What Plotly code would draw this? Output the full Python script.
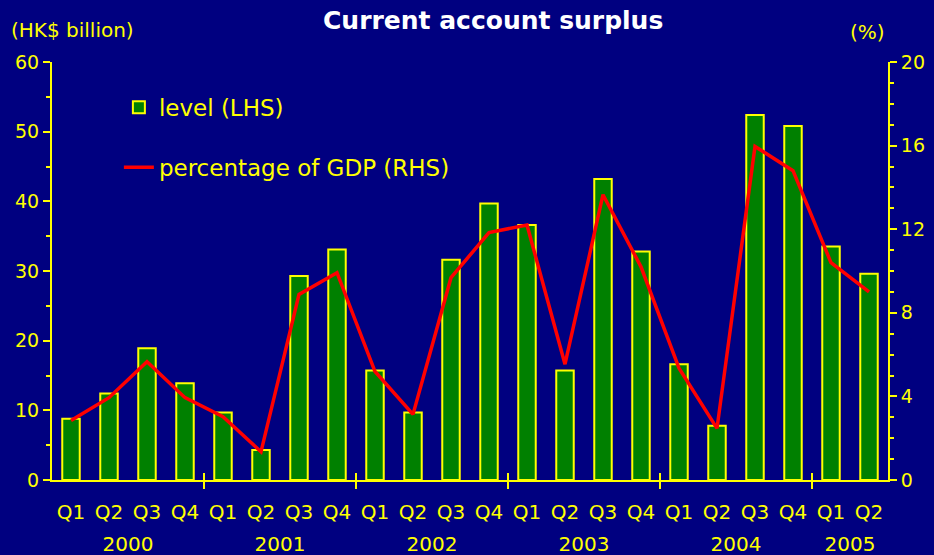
import plotly.graph_objects as go

quarters = ["Q1", "Q2", "Q3", "Q4"] * 5 + ["Q1", "Q2"]
years = ["2000", "2001", "2002", "2003", "2004", "2005"]
quarters_per_year = [4, 4, 4, 4, 4, 2]
level = [8.8, 12.4, 18.9, 13.9, 9.7, 4.3, 29.3, 33.1, 15.7, 9.7, 31.6, 39.7,
         36.6, 15.7, 43.2, 32.8, 16.6, 7.8, 52.4, 50.8, 33.5, 29.6]
pct_gdp = [2.85, 3.94, 5.66, 3.94, 3.03, 1.35, 8.88, 9.92, 5.19, 3.14, 9.68, 11.84,
           12.2, 5.54, 13.65, 10.2, 5.35, 2.47, 15.96, 14.8, 10.4, 9.0]

idx = list(range(len(quarters)))
year_centers, boundaries = [], []
start = 0
for n in quarters_per_year:
    year_centers.append(start + (n - 1) / 2)
    start += n
    boundaries.append(start - 0.5)
boundaries = boundaries[:-1]

YEL = "#FFFF00"
FONT = "DejaVu Sans, Verdana, sans-serif"
xr = [-0.5, len(quarters) - 0.5]

fig = go.Figure()
fig.add_trace(go.Bar(
    x=idx, y=level, name="level (LHS)", xaxis="x", yaxis="y",
    marker=dict(color="#008000", line=dict(color=YEL, width=2)),
    width=0.46, legendgroup="a"))
fig.add_trace(go.Scatter(
    x=idx, y=pct_gdp, name="percentage of GDP (RHS)", xaxis="x2", yaxis="y2",
    mode="lines", line=dict(color="#FF0000", width=3.5), legendgroup="b"))

xfont = dict(family=FONT, size=20, color=YEL)
yfont = dict(family=FONT, size=19, color=YEL)

fig.update_layout(
    width=934, height=555,
    paper_bgcolor="#000080", plot_bgcolor="#000080",
    margin=dict(l=52, r=46, t=62, b=75, autoexpand=False),
    font=dict(family=FONT, color=YEL),
    title=dict(text="<b>Current account surplus</b>", x=0.528, xanchor="center",
               y=0.964, yanchor="middle", yref="container",
               font=dict(family=FONT, size=25, color="white")),
    showlegend=True,
    legend=dict(x=0.08, y=0.943, xanchor="left", yanchor="top",
                bgcolor="rgba(0,0,0,0)", font=dict(family=FONT, size=23, color=YEL),
                tracegroupgap=27, itemwidth=30),
    xaxis=dict(range=xr, tickmode="array", tickvals=idx, ticktext=quarters,
               ticks="", showline=True, linecolor=YEL, linewidth=2,
               showgrid=False, zeroline=False, tickfont=xfont,
               automargin=False, ticklabelstandoff=13,
               minor=dict(tickmode="array", tickvals=boundaries, ticks="outside",
                          ticklen=7, tickwidth=2, tickcolor=YEL, showgrid=False)),
    xaxis2=dict(range=xr, overlaying="x", side="bottom", anchor="y",
                tickmode="array", tickvals=year_centers, ticktext=years,
                ticks="", showline=False, showgrid=False, zeroline=False,
                tickfont=xfont, ticklabelstandoff=50, automargin=False,
                minor=dict(tickmode="array", tickvals=boundaries, ticks="inside",
                           ticklen=7, tickwidth=2, tickcolor=YEL, showgrid=False)),
    yaxis=dict(range=[0, 60], tickmode="linear", tick0=0, dtick=10,
               ticks="outside", ticklen=7, tickwidth=2, tickcolor=YEL,
               showline=True, linecolor=YEL, linewidth=2, showgrid=False,
               zeroline=False, tickfont=yfont, automargin=False,
               minor=dict(dtick=5, ticks="outside", ticklen=4, tickwidth=2,
                          tickcolor=YEL, showgrid=False)),
    yaxis2=dict(range=[0, 20], tickmode="linear", tick0=0, dtick=4,
                overlaying="y", side="right", anchor="x2",
                ticks="outside", ticklen=7, tickwidth=2, tickcolor=YEL,
                showline=True, linecolor=YEL, linewidth=2, showgrid=False,
                zeroline=False, tickfont=yfont, automargin=False,
                minor=dict(dtick=1, ticks="outside", ticklen=4, tickwidth=2,
                           tickcolor=YEL, showgrid=False)),
    annotations=[
        dict(text="(HK$ billion)", xref="paper", yref="paper", x=-0.052, y=1.077,
             xanchor="left", yanchor="middle", showarrow=False,
             font=dict(family=FONT, size=20, color=YEL)),
        dict(text="(%)", xref="paper", yref="paper", x=0.976, y=1.072,
             xanchor="center", yanchor="middle", showarrow=False,
             font=dict(family=FONT, size=20, color=YEL)),
    ],
)

fig.write_html("out.html",
               config={"displayModeBar": False},
               post_script="document.body.style.margin='0px';"
                           "document.body.style.background='#000080';")
